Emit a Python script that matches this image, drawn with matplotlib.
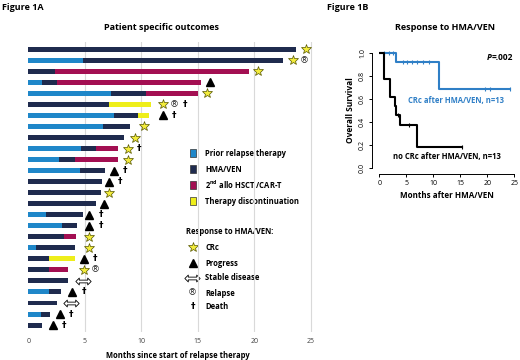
import numpy as np
import matplotlib
matplotlib.use("Agg")
import matplotlib.pyplot as plt
from matplotlib.path import Path

plt.rcParams['font.family'] = ['Open Sans', 'DejaVu Sans']
plt.rcParams['mathtext.fontset'] = 'custom'
plt.rcParams['mathtext.rm'] = 'Open Sans'

# ---- Figure 1A data: segment durations (months) per patient, top to bottom ----
prior_relapse = [0, 4.8, 0, 1.2, 7.3, 0, 7.6, 6.6, 0, 4.7, 2.7, 4.6, 0,
                 0, 0, 1.6, 3.0, 0, 0.65, 0, 0, 0, 1.8, 0, 1.1, 0]
hma_ven = [23.7, 17.7, 2.4, 1.3, 3.1, 7.1, 2.1, 2.4, 8.5, 1.3, 1.4, 2.2, 6.5,
           6.4, 6.0, 3.2, 1.3, 3.2, 3.45, 1.8, 1.8, 3.5, 1.1, 2.5, 0.8, 1.2]
allo_cart = [0, 0, 17.1, 12.8, 4.6, 0, 0, 0, 0, 1.9, 3.8, 0, 0,
             0, 0, 0, 0, 1.0, 0, 0, 1.7, 0, 0, 0, 0, 0]
discontinuation = [0, 0, 0, 0, 0, 3.8, 1.0, 0, 0, 0, 0, 0, 0,
                   0, 0, 0, 0, 0, 0, 2.3, 0, 0, 0, 0, 0, 0]

response = ['CRc', 'CRc', 'CRc', 'Progress', 'CRc', 'CRc', 'Progress', 'CRc',
            'CRc', 'CRc', 'CRc', 'Progress', 'Progress', 'CRc', 'Progress',
            'Progress', 'Progress', 'CRc', 'CRc', 'Progress', 'CRc', 'Stable',
            'Progress', 'Stable', 'Progress', 'Progress']
response_x = [24.6, 23.4, 20.3, 16.1, 15.8, 11.9, 11.9, 10.2, 9.4, 8.8, 8.8,
              7.6, 7.1, 7.1, 6.7, 5.4, 5.4, 5.4, 5.4, 4.9, 4.9, 4.8, 3.9,
              3.8, 2.8, 2.2]
relapsed = [0, 1, 0, 0, 0, 1, 0, 0, 0, 0, 0, 0, 0,
            0, 0, 0, 0, 0, 0, 0, 1, 0, 0, 0, 0, 0]
died = [0, 0, 0, 0, 0, 1, 1, 0, 0, 1, 0, 1, 1,
        0, 0, 1, 1, 0, 0, 1, 0, 0, 1, 0, 1, 1]

# ---- Figure 1B data: Kaplan-Meier steps ----
crc_t = [0, 3.0, 11.0, 24.2]
crc_s = [1.0, 0.92, 0.69, 0.69]
crc_cens = [0.9, 1.8, 2.6, 4.3, 5.2, 6.1, 7.0, 8.0, 9.2, 19.6, 20.5, 24.2]
nocrc_t = [0, 0.93, 2.0, 2.9, 3.0, 3.8, 7.0, 15.3]
nocrc_s = [1.0, 0.77, 0.615, 0.54, 0.46, 0.37, 0.185, 0.185]
nocrc_cens = [3.4, 5.5, 15.3]

BLUE = '#1f87c9'
NAVY = '#1f2b4e'
MAG = '#a30f52'
YEL = '#eeee1a'
STAR = '#f3ec3c'
KM_BLUE = '#2f7fc6'

STAR_MS = 7.8
TRI_MS = 6

fig = plt.figure(figsize=(5.2, 3.6), dpi=100)

# overlay in pixel coordinates for free text / legend
ov = fig.add_axes([0, 0, 1, 1])
ov.set_xlim(0, 520)
ov.set_ylim(360, 0)
ov.axis('off')

# ---------------- left panel ----------------
px = 11.3
ax = fig.add_axes([28.3 / 520, 1 - 332 / 360, 26.5 * px / 520, 290 / 360])
ax.set_xlim(0, 26.5)
ax.set_ylim(25.63, -0.66)
rows = np.arange(len(hma_ven))
h = 0.45
left = np.zeros(len(rows))
for vals, col in [(prior_relapse, BLUE), (hma_ven, NAVY),
                  (allo_cart, MAG), (discontinuation, YEL)]:
    ax.barh(rows, vals, left=left, height=h, color=col, zorder=2)
    left = left + np.array(vals)

for x in [5, 10, 15, 20, 25]:
    ax.axvline(x, color='#d9d9d9', lw=0.8, zorder=0)

dbl = Path([(-1, 0), (-0.55, 0.45), (-0.55, 0.18), (0.55, 0.18), (0.55, 0.45),
            (1, 0), (0.55, -0.45), (0.55, -0.18), (-0.55, -0.18), (-0.55, -0.45),
            (-1, 0)], closed=True)

for i in rows:
    x = response_x[i]
    if response[i] == 'CRc':
        ax.plot(x, i, marker='*', ms=STAR_MS, mfc=STAR, mec='#555500', mew=0.5,
                zorder=3, clip_on=False)
    elif response[i] == 'Progress':
        ax.plot(x, i, marker='^', ms=TRI_MS, color='black', zorder=3,
                clip_on=False)
    else:
        ax.plot(x, i, marker=dbl, ms=11, mfc='white', mec='black', mew=0.6,
                zorder=3, clip_on=False)
    nx = x + 1.0
    if relapsed[i]:
        ax.text(nx, i, '®', fontsize=6.5, ha='center', va='center',
                color='#222222', family='DejaVu Sans')
        nx += 1.0
    if died[i]:
        ax.text(nx, i, '†', fontsize=6.5, fontweight='bold',
                ha='center', va='center', family='DejaVu Sans')

for s in ax.spines.values():
    s.set_visible(False)
ax.set_yticks([])
ax.set_xticks([0, 5, 10, 15, 20, 25])
ax.tick_params(axis='x', length=0, labelsize=5, labelcolor='#404040', pad=4)
ax.set_xlabel('Months since start of relapse therapy', fontsize=5.5,
              fontweight='bold', labelpad=5)
ax.patch.set_alpha(0)

# legend (manual, pixel coords)
leg = [('Prior relapse therapy', BLUE), ('HMA/VEN', NAVY),
       ('2$^{\\mathregular{nd}}$ allo HSCT /CAR-T', MAG),
       ('Therapy discontinuation', YEL)]
for k, (lab, col) in enumerate(leg):
    y = 153 + 16 * k
    ov.add_patch(plt.Rectangle((189.5, y - 4), 6.5, 7.5, facecolor=col,
                               edgecolor='#333333', lw=0.5))
    ov.text(205, y, lab, fontsize=5.5, fontweight='bold', va='center')
ov.text(186, 232, 'Response to HMA/VEN:', fontsize=5.5, fontweight='bold',
        va='center')
ov.plot(192.7, 247, marker='*', ms=STAR_MS, mfc=STAR, mec='#555500', mew=0.5)
ov.text(205, 247, 'CRc', fontsize=5.5, fontweight='bold', va='center')
ov.plot(192.7, 262.5, marker='^', ms=TRI_MS, color='black')
ov.text(205, 263, 'Progress', fontsize=5.5, fontweight='bold', va='center')
ov.plot(192.0, 277.7, marker=dbl, ms=11, mfc='white', mec='black', mew=0.6)
ov.text(205, 278, 'Stable disease', fontsize=5.5, fontweight='bold', va='center')
ov.text(192.7, 292.7, '®', fontsize=6.5, ha='center', va='center',
        color='#222222', family='DejaVu Sans')
ov.text(205, 293, 'Relapse', fontsize=5.5, fontweight='bold', va='center')
ov.text(192.7, 306.5, '†', fontsize=6.5, fontweight='bold', ha='center',
        va='center', family='DejaVu Sans')
ov.text(205, 306.5, 'Death', fontsize=5.5, fontweight='bold', va='center')

ov.text(2, 7, 'Figure 1A', fontsize=6.5, fontweight='bold', va='center')
ov.text(162, 27, 'Patient specific outcomes', fontsize=6.5, fontweight='bold',
        ha='center', va='center')
ov.text(327, 7, 'Figure 1B', fontsize=6.5, fontweight='bold', va='center')
ov.text(445, 28, 'Response to HMA/VEN', fontsize=6.5, fontweight='bold',
        ha='center', va='center')

# ---------------- right panel ----------------
top = 52.7 - 0.05 * 115.6
bx = fig.add_axes([379.3 / 520, 1 - 174 / 360, 135 / 520, (174 - top) / 360])
bx.set_xlim(0, 25)
bx.set_ylim(-0.05, 1.05)


def surv_at(ts, ss, t):
    idx = np.searchsorted(ts, t, side='right') - 1
    return np.array(ss)[idx]


bx.step(crc_t, crc_s, where='post', color=KM_BLUE, lw=1.5, zorder=3)
bx.plot(crc_cens, surv_at(crc_t, crc_s, crc_cens), '|', color=KM_BLUE,
        ms=3.5, mew=0.8, zorder=3)
bx.step(nocrc_t, nocrc_s, where='post', color='black', lw=1.5, zorder=3)
bx.plot(nocrc_cens, surv_at(nocrc_t, nocrc_s, nocrc_cens), '|', color='black',
        ms=3.5, mew=0.8, zorder=3)

bx.spines['top'].set_visible(False)
bx.spines['right'].set_visible(False)
bx.spines['left'].set_bounds(0, 1)
bx.spines['left'].set_position(('data', -1.3))
bx.spines['bottom'].set_bounds(0, 25)
bx.spines['left'].set_linewidth(0.7)
bx.spines['bottom'].set_linewidth(0.7)
bx.set_xticks([0, 5, 10, 15, 20, 25])
bx.set_yticks([0, 0.2, 0.4, 0.6, 0.8, 1.0])
bx.set_yticklabels(['0.0', '0.2', '0.4', '0.6', '0.8', '1.0'], rotation=90,
                   va='center')
bx.tick_params(labelsize=5, length=2.5, width=0.7, pad=2)
bx.set_xlabel('Months after HMA/VEN', fontsize=5.8, fontweight='bold',
              labelpad=3)
bx.set_ylabel('Overall Survival', fontsize=6, fontweight='bold', labelpad=3)
bx.patch.set_alpha(0)

ov.text(487, 57, 'P', fontsize=6, fontweight='bold', style='italic', va='center')
ov.text(492, 57, '=.002', fontsize=6, fontweight='bold', va='center')
ov.text(408, 100, 'CRc after HMA/VEN, n=13', fontsize=5.5, fontweight='bold',
        color=KM_BLUE, va='center')
ov.text(393, 156, 'no CRc after HMA/VEN, n=13', fontsize=5.5, fontweight='bold',
        va='center')

fig.savefig('out.png', dpi=100)
